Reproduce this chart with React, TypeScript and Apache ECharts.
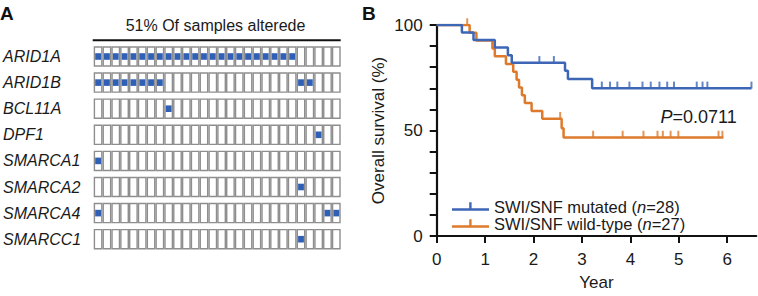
import React, { useEffect, useRef } from 'react';
import * as echarts from 'echarts';

// ---------- Panel A data ----------
const genes = ['ARID1A', 'ARID1B', 'BCL11A', 'DPF1', 'SMARCA1', 'SMARCA2', 'SMARCA4', 'SMARCC1'];
const samples = ['1', '2', '3', '4', '5', '6', '7', '8', '9', '10', '11', '12', '13', '14', '15', '16', '17', '18', '19', '20', '21', '22', '23', '24', '25', '26', '27', '28'];
const alteredARID1A = [0, 1, 2, 3, 4, 5, 6, 7, 8, 9, 10, 11, 12, 13, 14, 15, 16, 17, 18, 19, 20, 21, 22];
const alteredARID1B = [0, 1, 2, 3, 4, 5, 6, 7, 23, 24];
const alteredBCL11A = [8];
const alteredDPF1 = [25];
const alteredSMARCA1 = [0];
const alteredSMARCA2 = [23];
const alteredSMARCA4 = [0, 26, 27];
const alteredSMARCC1 = [23];
const alteredByGene = [alteredARID1A, alteredARID1B, alteredBCL11A, alteredDPF1, alteredSMARCA1, alteredSMARCA2, alteredSMARCA4, alteredSMARCC1];
const oncoTitle = '51% Of samples alterede';

// ---------- Panel B data ----------
const mutatedCurve = [
  [0, 100], [0.52, 96.4], [0.76, 92.9], [1.2, 89.3], [1.47, 85.7], [1.55, 82.1],
  [2.65, 78.3], [2.71, 74.4], [3.21, 70.0], [6.5, 70.0],
];
const mutatedCensored = [
  [2.12, 82.1], [2.42, 82.1],
  [3.41, 70.0], [3.58, 70.0], [3.73, 70.0], [3.98, 70.0], [4.25, 70.0], [4.42, 70.0],
  [4.6, 70.0], [4.76, 70.0], [4.9, 70.0], [5.37, 70.0], [5.49, 70.0], [5.59, 70.0], [6.5, 70.0],
];
const wildCurve = [
  [0, 100], [0.68, 96.3], [0.82, 92.6], [1.15, 88.9], [1.2, 85.2], [1.43, 81.5],
  [1.58, 77.8], [1.65, 74.1], [1.7, 70.4], [1.76, 66.7], [1.82, 63.0], [1.96, 59.3],
  [2.18, 55.6], [2.58, 51.1], [2.62, 46.7], [5.92, 46.7],
];
const wildCensored = [
  [0.63, 100], [2.55, 55.6],
  [3.23, 46.7], [3.84, 46.7], [4.27, 46.7], [4.56, 46.7], [4.67, 46.7], [4.83, 46.7],
  [4.99, 46.7], [5.82, 46.7], [5.9, 46.7],
];
const yearTicks = [0, 1, 2, 3, 4, 5, 6];
const survivalTicks = [0, 10, 20, 30, 40, 50, 60, 70, 80, 90, 100];
const survivalLabels = [0, 50, 100];
const pValueText = '{i|P}=0.0711';

const FONT = '"Liberation Sans", Arial, Helvetica, sans-serif';
const BLUE = '#3e66b6';
const ORANGE = '#dd7a2c';
const CELL_BLUE = '#2f60b6';
const INK = '#1a1a1a';

const legendIcon = 'path://M0,6H37V8.5H0Z M17.2,0H19.6V6H17.2Z';

export default function App() {
  const ref = useRef<HTMLDivElement>(null);

  useEffect(() => {
    document.body.style.margin = '0';
    if (!ref.current) return;
    const chart = echarts.init(ref.current, undefined, { renderer: 'svg' });

    const cells: number[][] = [];
    genes.forEach((_, j) => {
      samples.forEach((__, i) => {
        cells.push([i, j, alteredByGene[j].includes(i) ? 1 : 0]);
      });
    });

    const option: any = {
      animation: false,
      textStyle: { fontFamily: FONT },
      grid: [
        { left: 92.7, top: 43.45, width: 248, height: 208.8 },
        { left: 436.7, top: 25, width: 319.6, height: 214 },
      ],
      xAxis: [
        { gridIndex: 0, type: 'category', data: samples, show: false },
        {
          gridIndex: 1, type: 'value', min: 0, max: 6.6,
          axisLine: { show: true, lineStyle: { color: '#111', width: 2.2 } },
          axisTick: { show: true, length: 7, lineStyle: { color: '#111', width: 2 }, customValues: yearTicks },
          axisLabel: { fontSize: 17, color: INK, margin: 15, fontFamily: FONT, customValues: yearTicks },
          splitLine: { show: false },
          name: 'Year', nameLocation: 'middle', nameGap: 38,
          nameTextStyle: { fontSize: 17, color: INK, fontFamily: FONT },
        },
      ],
      yAxis: [
        {
          gridIndex: 0, type: 'category', data: genes, inverse: true,
          axisLine: { show: false }, axisTick: { show: false },
          axisLabel: { fontSize: 16, fontStyle: 'italic', color: INK, align: 'left', margin: 90.7, fontFamily: FONT },
        },
        {
          gridIndex: 1, type: 'value', min: 0, max: 100,
          axisLine: { show: true, lineStyle: { color: '#111', width: 2.2 } },
          axisTick: { show: true, length: 7, lineStyle: { color: '#111', width: 2 }, customValues: survivalTicks },
          axisLabel: { fontSize: 17, color: INK, margin: 14, fontFamily: FONT, customValues: survivalLabels },
          splitLine: { show: false },
          name: 'Overall survival (%)', nameLocation: 'middle', nameGap: 50,
          nameTextStyle: { fontSize: 17, color: INK, fontFamily: FONT },
        },
      ],
      legend: {
        left: 452, top: 198, orient: 'vertical', padding: 0, itemGap: 0,
        itemWidth: 37, itemHeight: 8.5, selectedMode: false,
        data: [
          { name: 'mutated', icon: legendIcon, itemStyle: { color: BLUE } },
          { name: 'wild', icon: legendIcon, itemStyle: { color: ORANGE } },
        ],
        formatter: (name: string) => name === 'mutated'
          ? 'SWI/SNF mutated ({i|n}=28)'
          : 'SWI/SNF wild-type ({i|n}=27)',
        textStyle: {
          fontSize: 16.5, color: INK, lineHeight: 16, fontFamily: FONT,
          rich: { i: { fontSize: 16.5, fontStyle: 'italic', color: INK, fontFamily: FONT } },
        },
      },
      graphic: [
        { type: 'text', left: 0, top: 4, style: { text: 'A', fontSize: 19, fontWeight: 'bold', fill: '#111', fontFamily: FONT } },
        { type: 'text', left: 362, top: 4, style: { text: 'B', fontSize: 19, fontWeight: 'bold', fill: '#111', fontFamily: FONT } },
        {
          type: 'text', x: 215.5, y: 25,
          style: { text: oncoTitle, fontSize: 16, fill: INK, align: 'center', verticalAlign: 'middle', fontFamily: FONT },
        },
        { type: 'line', shape: { x1: 92.7, y1: 40.3, x2: 340.7, y2: 40.3 }, style: { stroke: '#111', lineWidth: 2 } },
        {
          type: 'text', x: 660.5, y: 117,
          style: {
            text: pValueText, fontSize: 18, fill: INK, align: 'left', verticalAlign: 'middle', fontFamily: FONT,
            rich: { i: { fontSize: 18, fontStyle: 'italic', fill: INK, fontFamily: FONT } },
          },
        },
      ],
      series: [
        {
          type: 'custom', name: 'oncoprint', xAxisIndex: 0, yAxisIndex: 0, silent: true,
          data: cells, encode: { x: 0, y: 1 },
          renderItem: (params: any, api: any) => {
            const c = api.coord([api.value(0), api.value(1)]);
            const s = api.size([1, 1]);
            const w = s[0] - 1.4;
            const h = s[1] * 0.73;
            const children: any[] = [
              {
                type: 'rect',
                shape: { x: c[0] - w / 2, y: c[1] - h / 2, width: w, height: h },
                style: { fill: '#ffffff', stroke: '#8e8e8e', lineWidth: 1.4 },
              },
            ];
            if (api.value(2)) {
              children.push({
                type: 'rect',
                shape: { x: c[0] - w / 2 + 0.8, y: c[1] - 3.3, width: w - 1.6, height: 6.6 },
                style: { fill: CELL_BLUE },
              });
            }
            return { type: 'group', children };
          },
        },
        {
          type: 'line', name: 'wild', xAxisIndex: 1, yAxisIndex: 1, step: 'end',
          data: wildCurve, symbol: 'none', silent: true,
          lineStyle: { color: ORANGE, width: 2.5 }, itemStyle: { color: ORANGE },
        },
        {
          type: 'scatter', name: 'wildCensor', xAxisIndex: 1, yAxisIndex: 1,
          data: wildCensored, symbol: 'rect', symbolSize: [2, 7], symbolOffset: [0, -3.2], silent: true,
          itemStyle: { color: ORANGE },
        },
        {
          type: 'line', name: 'mutated', xAxisIndex: 1, yAxisIndex: 1, step: 'end',
          data: mutatedCurve, symbol: 'none', silent: true,
          lineStyle: { color: BLUE, width: 2.5 }, itemStyle: { color: BLUE },
        },
        {
          type: 'scatter', name: 'mutatedCensor', xAxisIndex: 1, yAxisIndex: 1,
          data: mutatedCensored, symbol: 'rect', symbolSize: [2, 7], symbolOffset: [0, -3.2], silent: true,
          itemStyle: { color: BLUE },
        },
      ],
    };

    chart.setOption(option);
    return () => chart.dispose();
  }, []);

  return <div ref={ref} style={{ width: 758, height: 296 }} />;
}
